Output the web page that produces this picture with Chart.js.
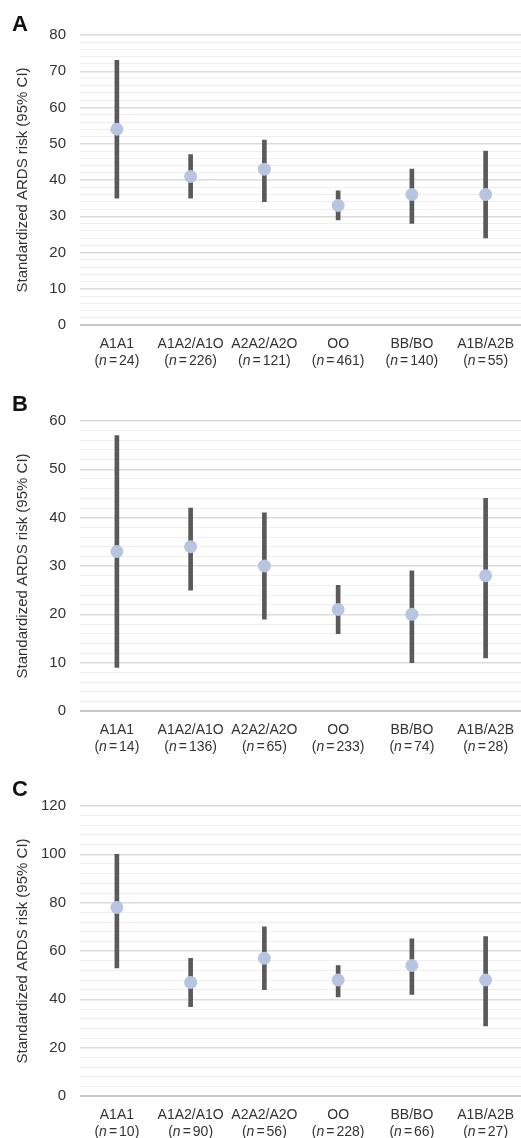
<!DOCTYPE html>
<html>
<head>
<meta charset="utf-8">
<script src="https://cdn.jsdelivr.net/npm/chart.js@4"></script>
<style>
  html, body { margin: 0; padding: 0; background: #fff; }
  html { overflow: hidden; }
  body { width: 521px; height: 1138px; position: relative; overflow: hidden; }
  .panel { position: absolute; left: 0; width: 529px; height: 385px; }
  .letter { position: absolute; left: 12px; font: bold 22px "Liberation Sans", Arial, sans-serif; line-height: 22px; color: #111; z-index: 2; }
</style>
</head>
<body>
<div class="letter" style="top:13px">A</div>
<div class="letter" style="top:393px">B</div>
<div class="letter" style="top:778px">C</div>
<div class="panel" style="top:0px"><canvas id="chartA"></canvas></div>
<div class="panel" style="top:385.5px"><canvas id="chartB"></canvas></div>
<div class="panel" style="top:771px"><canvas id="chartC"></canvas></div>
<script>
const categories = ['A1A1', 'A1A2/A1O', 'A2A2/A2O', 'OO', 'BB/BO', 'A1B/A2B'];

// Panel A
const nA = [24, 226, 121, 461, 140, 55];
const riskA = [54, 41, 43, 33, 36, 36];
const lowA = [35, 35, 34, 29, 28, 24];
const highA = [73, 47, 51, 37, 43, 48];

// Panel B
const nB = [14, 136, 65, 233, 74, 28];
const riskB = [33, 34, 30, 21, 20, 28];
const lowB = [9, 25, 19, 16, 10, 11];
const highB = [57, 42, 41, 26, 29, 44];

// Panel C
const nC = [10, 90, 56, 228, 66, 27];
const riskC = [78, 47, 57, 48, 54, 48];
const lowC = [53, 37, 44, 41, 42, 29];
const highC = [100, 57, 70, 54, 65, 66];

const FONT = '"Liberation Sans", Arial, sans-serif';
const TEXT = '#333';
const XSIZE = 14;

// second label line "(n = 24)" with an italic n
const nLinePlugin = {
    id: 'nLine',
    afterDraw(chart, args, opts) {
        const x = chart.scales.x;
        const ctx = chart.ctx;
        const y = chart.chartArea.bottom + 36;
        const gap = 2;
        ctx.save();
        ctx.fillStyle = TEXT;
        ctx.textBaseline = 'middle';
        ctx.textAlign = 'left';
        opts.counts.forEach((n, i) => {
            const parts = [['(', 'normal', 0], ['n', 'italic', gap], ['=', 'normal', gap], [n + ')', 'normal', 0]];
            let w = 0;
            parts.forEach(p => { ctx.font = p[1] + ' ' + XSIZE + 'px ' + FONT; w += ctx.measureText(p[0]).width + p[2]; });
            let cx = x.getPixelForTick(i) - w / 2;
            parts.forEach(p => {
                ctx.font = p[1] + ' ' + XSIZE + 'px ' + FONT;
                ctx.fillText(p[0], cx, y);
                cx += ctx.measureText(p[0]).width + p[2];
            });
        });
        ctx.restore();
    }
};

function makeChart(id, counts, risk, low, high, max, minor, major) {
    new Chart(document.getElementById(id), {
        type: 'bar',
        data: {
            labels: categories,
            datasets: [
                {
                    type: 'line',
                    data: risk,
                    showLine: false,
                    pointRadius: 6.5,
                    pointHoverRadius: 6.5,
                    pointBackgroundColor: '#b7c5e0',
                    pointBorderWidth: 0,
                    order: 0
                },
                {
                    data: low.map((v, i) => [v, high[i]]),
                    backgroundColor: '#5a5a5a',
                    barThickness: 4,
                    borderSkipped: false,
                    order: 1
                }
            ]
        },
        options: {
            responsive: true,
            maintainAspectRatio: false,
            animation: false,
            layout: { padding: { top: 35, left: 0, right: 0, bottom: 0 } },
            plugins: {
                legend: { display: false },
                tooltip: { enabled: false },
                nLine: { counts: counts }
            },
            scales: {
                x: {
                    offset: true,
                    grid: { display: false },
                    border: { display: false },
                    ticks: {
                        color: TEXT,
                        font: { family: FONT, size: XSIZE },
                        padding: 3,
                        maxRotation: 0,
                        autoSkip: false
                    },
                    afterFit(scale) { scale.height = 60; }
                },
                y: {
                    min: 0,
                    max: max,
                    border: { display: false },
                    grid: {
                        drawTicks: false,
                        color: c => c.tick.value === 0 ? '#c8c8c8' : (c.tick.value % major === 0 ? '#dcdcdc' : '#efefef'),
                        lineWidth: c => c.tick.value === 0 ? 2 : (c.tick.value % major === 0 ? 1.5 : 1)
                    },
                    ticks: {
                        stepSize: minor,
                        autoSkip: false,
                        color: TEXT,
                        font: { family: FONT, size: 15 },
                        padding: 14,
                        callback: v => v % major === 0 ? v : ''
                    },
                    title: {
                        display: true,
                        text: 'Standardized ARDS risk (95% CI)',
                        color: TEXT,
                        font: { family: FONT, size: 15 },
                        padding: { top: 14, bottom: 0 }
                    },
                    afterFit(scale) { scale.width = 80; }
                }
            }
        },
        plugins: [nLinePlugin]
    });
}

makeChart('chartA', nA, riskA, lowA, highA, 80, 2, 10);
makeChart('chartB', nB, riskB, lowB, highB, 60, 2, 10);
makeChart('chartC', nC, riskC, lowC, highC, 120, 4, 20);
</script>
</body>
</html>
